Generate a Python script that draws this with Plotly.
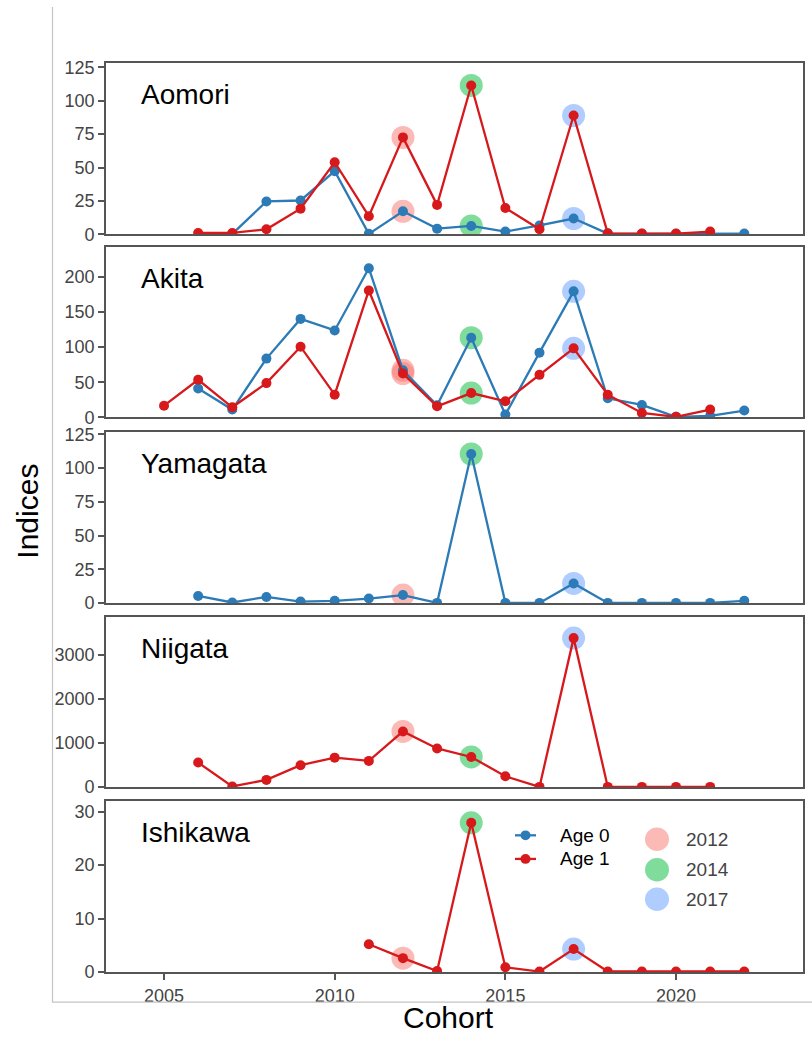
import plotly.graph_objects as go

# ---- data -------------------------------------------------------------
PREFECTURES = ["Aomori", "Akita", "Yamagata", "Niigata", "Ishikawa"]

aomori_age0_years = list(range(2007, 2023))
aomori_age0 = [0.3, 24.6, 25.3, 47.3, 0.3, 17.2, 4.2, 6.2, 2.0, 6.6, 11.8, 0.5, 0.3, 0.3, 0.3, 0.5]
aomori_age1_years = list(range(2006, 2022))
aomori_age1 = [1.0, 1.0, 3.7, 19.2, 54.0, 13.5, 72.6, 22.0, 111.5, 19.7, 3.7, 89.0, 0.7, 0.5, 0.5, 2.0]

akita_age0_years = list(range(2006, 2023))
akita_age0 = [41.1, 10.9, 83.7, 140.4, 123.9, 212.8, 67.0, 17.0, 113.5, 3.8, 92.2, 179.7, 27.0, 17.5, 0.5, 2.0, 9.5]
akita_age1_years = list(range(2005, 2022))
akita_age1 = [16.5, 53.4, 14.2, 48.7, 100.7, 32.2, 181.0, 62.4, 15.6, 34.5, 22.7, 60.5, 98.3, 32.2, 6.1, 0.5, 10.9]

yamagata_age0_years = list(range(2006, 2023))
yamagata_age0 = [5.3, 0.5, 4.6, 1.2, 1.7, 3.4, 6.0, 0.2, 110.4, 0.2, 0.2, 14.6, 0.2, 0.2, 0.2, 0.2, 1.7]

niigata_age1_years = list(range(2006, 2022))
niigata_age1 = [558, 15, 164, 499, 670, 596, 1266, 879, 685, 246, 5, 3388, 5, 5, 5, 5]

ishikawa_age1_years = list(range(2011, 2023))
ishikawa_age1 = [5.2, 2.6, 0.2, 27.9, 0.9, 0.1, 4.3, 0.1, 0.1, 0.1, 0.1, 0.1]

# series per panel: (age label, years, values)
panel_series = {
    "Aomori": [("Age 0", aomori_age0_years, aomori_age0), ("Age 1", aomori_age1_years, aomori_age1)],
    "Akita": [("Age 0", akita_age0_years, akita_age0), ("Age 1", akita_age1_years, akita_age1)],
    "Yamagata": [("Age 0", yamagata_age0_years, yamagata_age0)],
    "Niigata": [("Age 1", niigata_age1_years, niigata_age1)],
    "Ishikawa": [("Age 1", ishikawa_age1_years, ishikawa_age1)],
}

y_ranges = {"Aomori": [0, 128.3], "Akita": [0, 243], "Yamagata": [0, 126.7],
            "Niigata": [0, 3870], "Ishikawa": [0, 32.0]}
y_ticks = {"Aomori": [0, 25, 50, 75, 100, 125], "Akita": [0, 50, 100, 150, 200],
           "Yamagata": [0, 25, 50, 75, 100, 125], "Niigata": [0, 1000, 2000, 3000],
           "Ishikawa": [0, 10, 20, 30]}

x_ticks = [2005, 2010, 2015, 2020]
highlight_years = [2012, 2014, 2017]

# ---- styling ----------------------------------------------------------
W, H = 812, 1046
FONT = "Arial, Liberation Sans, Helvetica, sans-serif"
AGE_COLORS = {"Age 0": "#2c7bb6", "Age 1": "#d7191c"}
HL_COLORS = {2012: "#F8766D", 2014: "#00BA38", 2017: "#619CFF"}
HL_ALPHA = 0.5
FRAME = "#555555"
TICK_TXT = "#444444"

# panel boxes in pixels (top, bottom)
panel_px = {"Aomori": (57, 231), "Akita": (244, 417), "Yamagata": (432, 606),
            "Niigata": (620, 793), "Ishikawa": (807, 981)}
X_LEFT, X_RIGHT = 106, 803


def px(x):
    return x / W


def py(y):
    return 1 - y / H


def rgba(hex_color, a):
    h = hex_color.lstrip("#")
    r, g, b = int(h[0:2], 16), int(h[2:4], 16), int(h[4:6], 16)
    return f"rgba({r},{g},{b},{a})"


fig = go.Figure()
layout = {}
annotations = []
shapes = []

for i, name in enumerate(PREFECTURES, start=1):
    xa = "x" if i == 1 else f"x{i}"
    ya = "y" if i == 1 else f"y{i}"
    series = panel_series[name]

    # cohort highlight halos under the points
    for yr in highlight_years:
        hx, hy = [], []
        for _, yrs, vals in series:
            if yr in yrs:
                hx.append(yr)
                hy.append(vals[yrs.index(yr)])
        fig.add_trace(go.Scatter(
            x=hx, y=hy, mode="markers", xaxis=xa, yaxis=ya, showlegend=False,
            hoverinfo="skip",
            marker=dict(size=23, color=rgba(HL_COLORS[yr], HL_ALPHA), line=dict(width=0)),
        ))

    # age series: blue below red
    for age in ["Age 0", "Age 1"]:
        for lab, yrs, vals in series:
            if lab != age:
                continue
            fig.add_trace(go.Scatter(
                x=yrs, y=vals, mode="lines+markers", xaxis=xa, yaxis=ya,
                showlegend=False, name=lab,
                line=dict(color=AGE_COLORS[lab], width=2.3),
                marker=dict(size=10, color=AGE_COLORS[lab]),
            ))

    top, bot = panel_px[name]
    last = i == len(PREFECTURES)
    layout["xaxis" if i == 1 else f"xaxis{i}"] = dict(
        domain=[px(X_LEFT), px(X_RIGHT)], anchor=ya, range=[2003.3, 2023.72],
        showline=True, mirror=True, linecolor=FRAME, linewidth=1.8,
        showgrid=False, zeroline=False,
        tickvals=x_ticks if last else [], ticks="outside" if last else "",
        ticklen=6, tickwidth=1.6, tickcolor=FRAME,
        showticklabels=last, tickfont=dict(family=FONT, size=18, color=TICK_TXT),
    )
    layout["yaxis" if i == 1 else f"yaxis{i}"] = dict(
        domain=[py(bot), py(top)], anchor=xa, range=y_ranges[name],
        showline=True, mirror=True, linecolor=FRAME, linewidth=1.8,
        showgrid=False, zeroline=False,
        tickvals=y_ticks[name], ticks="outside", ticklen=6, tickwidth=1.6,
        tickcolor=FRAME, tickfont=dict(family=FONT, size=18, color=TICK_TXT),
    )

    # prefecture label inside each panel
    annotations.append(dict(
        text=name, xref="paper", yref="paper", x=px(139), y=py(top + 32),
        xanchor="left", yanchor="middle", showarrow=False,
        font=dict(family=FONT, size=28, color="black"),
    ))

# axis titles
annotations.append(dict(text="Indices", xref="paper", yref="paper", x=px(28), y=py(513),
                        textangle=-90, showarrow=False, xanchor="center", yanchor="middle",
                        font=dict(family=FONT, size=30, color="black")))
annotations.append(dict(text="Cohort", xref="paper", yref="paper", x=px(448), y=py(1027),
                        showarrow=False, xanchor="center", yanchor="middle",
                        font=dict(family=FONT, size=30, color="black")))

# legend: age series
for lab, cy in [("Age 0", 842), ("Age 1", 866)]:
    c = AGE_COLORS[lab]
    shapes.append(dict(type="line", xref="paper", yref="paper",
                       x0=px(515), x1=px(536), y0=py(cy), y1=py(cy),
                       line=dict(color=c, width=2.3)))
    shapes.append(dict(type="circle", xref="paper", yref="paper",
                       x0=px(520.5), x1=px(530.5), y0=py(cy + 5), y1=py(cy - 5),
                       fillcolor=c, line=dict(width=0)))
    annotations.append(dict(text=lab, xref="paper", yref="paper", x=px(558), y=py(cy),
                            xanchor="left", yanchor="middle", showarrow=False,
                            font=dict(family=FONT, size=19, color="black")))

# legend: cohort highlights
for yr, cy in zip(highlight_years, [846, 877, 907]):
    shapes.append(dict(type="circle", xref="paper", yref="paper",
                       x0=px(645), x1=px(669), y0=py(cy + 12), y1=py(cy - 12),
                       fillcolor=rgba(HL_COLORS[yr], HL_ALPHA), line=dict(width=0)))
    annotations.append(dict(text=str(yr), xref="paper", yref="paper", x=px(684), y=py(cy),
                            xanchor="left", yanchor="middle", showarrow=False,
                            font=dict(family=FONT, size=19, color=TICK_TXT)))

# thin outer frame on the left and bottom
shapes.append(dict(type="line", xref="paper", yref="paper", x0=px(52.5), x1=px(52.5),
                   y0=py(1011.5), y1=1, line=dict(color="#c4c4c4", width=1.2)))
shapes.append(dict(type="line", xref="paper", yref="paper", x0=px(52), x1=1,
                   y0=py(1011.5), y1=py(1011.5), line=dict(color="#c4c4c4", width=1.2)))

fig.update_layout(
    width=W, height=H, margin=dict(l=0, r=0, t=0, b=0),
    paper_bgcolor="white", plot_bgcolor="white", showlegend=False,
    annotations=annotations, shapes=shapes, **layout,
)

fig.write_html("out.html")
